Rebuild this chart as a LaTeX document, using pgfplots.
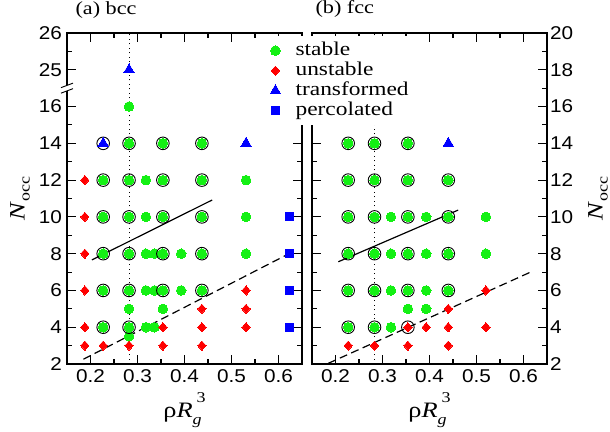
\documentclass[border=0pt]{standalone}
\usepackage{fontspec}
\setmainfont{Liberation Serif}[FakeStretch=1.2]
\setsansfont{Liberation Sans}[FakeStretch=1.12]
\usepackage{pgfplots}
\pgfplotsset{compat=1.18}

\definecolor{stabgreen}{RGB}{20,240,20}

\pgfplotsset{
  dotleg/.style={legend image code/.code={\draw[##1] plot coordinates {(0pt,0pt)};}},
  stab/.style={stabgreen, only marks, mark=*, mark size=4.8pt, mark options={solid, draw=stabgreen, fill=stabgreen, line width=0pt}, dotleg},
  ring/.style={black, only marks, mark=o, mark size=6.3pt, mark options={solid, draw=black, line width=0.9pt}, forget plot},
  unst/.style={red, only marks, mark=diamond*, mark size=4.6pt, mark options={solid, draw=red, fill=red, line width=0pt, xscale=1.2}, dotleg},
  trans/.style={blue, only marks, mark=triangle*, mark size=6pt, mark options={solid, draw=blue, fill=blue, line width=0pt}, dotleg},
  perc/.style={blue, only marks, mark=square*, mark size=4.1pt, mark options={solid, draw=blue, fill=blue, line width=0pt}, dotleg},
  bound/.style={black, line width=1.2pt, forget plot},
  divide/.style={black, line width=1pt, dash pattern=on 1pt off 3.5pt, forget plot},
  phase/.style={
    scale only axis, width=235pt, height=331pt,
    xmin=0.15, xmax=0.65, ymin=2, ymax=20,
    xtick={0.2,0.3,0.4,0.5,0.6}, xticklabels={0.2,0.3,0.4,0.5,0.6},
    minor xtick={0.25,0.35,0.45,0.55},
    tick align=inside, major tick length=9pt, minor tick length=5pt,
    xtick pos=both, xticklabel pos=lower,
    axis line style={line width=1.3pt},
    every tick/.style={black, line width=1.1pt},
    every minor tick/.style={black, line width=1.1pt},
    tick label style={font=\sffamily\fontsize{18.5}{18.5}\selectfont, inner sep=0pt},
    xticklabel style={yshift=-5pt},
    label style={font=\fontsize{22}{22}\selectfont},
    xlabel={ρ\textit{R}\raisebox{-7pt}{\fontsize{15}{15}\selectfont\textit{g}}\hspace{-5pt}\raisebox{15pt}{\fontsize{15}{15}\selectfont 3}},
    xlabel style={at={(axis description cs:0.5,-0.163)}, anchor=base},
    ylabel={\textit{N}\raisebox{-5pt}{\fontsize{15}{15}\selectfont occ}},
    title style={font=\fontsize{18.5}{18.5}\selectfont, at={(axis description cs:0,1)}, anchor=base west},
  },
}

\begin{document}
\begin{tikzpicture}
\useasboundingbox (-67pt,-67pt) rectangle (543pt,364pt);

% (a) bcc
\begin{axis}[phase,
  title={(a) bcc}, title style={xshift=5pt, yshift=12pt},
  ytick={2,4,6,8,10,12,14,16,18,20},
  yticklabels={2,4,6,8,10,12,14,16,25,26},
  minor ytick={3,5,7,9,11,13,15,19},
  ytick pos=both, yticklabel pos=left,
  yticklabel style={xshift=-5pt},
  ylabel style={at={(axis description cs:-0.18,0.5)}, anchor=base},
]
\addplot[divide] coordinates {(0.282,2) (0.282,20)};
\addplot[bound] coordinates {(0.203,7.66) (0.459,10.92)};
\addplot[bound, dash pattern=on 8pt off 4.5pt] coordinates {(0.185,2.26) (0.624,8.02)};
\addplot[stab] coordinates {
  (0.227,12) (0.227,10) (0.227,8) (0.227,6) (0.227,4)
  (0.282,16) (0.282,14) (0.282,12) (0.282,10) (0.282,8) (0.282,6) (0.282,5) (0.282,4) (0.282,3.5)
  (0.318,12) (0.318,10) (0.318,8) (0.318,6) (0.318,4)
  (0.336,8) (0.336,6) (0.336,4)
  (0.354,14) (0.354,12) (0.354,10) (0.354,8) (0.354,6) (0.354,5)
  (0.393,8) (0.393,6)
  (0.437,14) (0.437,12) (0.437,10) (0.437,8) (0.437,6)
  (0.531,12) (0.531,10) (0.531,8)
};
\addplot[ring] coordinates {
  (0.227,14) (0.227,12) (0.227,10) (0.227,8) (0.227,6) (0.227,4)
  (0.282,14) (0.282,12) (0.282,10) (0.282,8) (0.282,6) (0.282,4)
  (0.354,14) (0.354,12) (0.354,10) (0.354,8) (0.354,6)
  (0.437,14) (0.437,12) (0.437,10) (0.437,8) (0.437,6)
};
\addplot[unst] coordinates {
  (0.188,12) (0.188,10) (0.188,8) (0.188,6) (0.188,4) (0.188,3)
  (0.227,3) (0.282,3) (0.354,4) (0.354,3)
  (0.437,5) (0.437,4) (0.437,3)
  (0.531,6) (0.531,5) (0.531,4)
};
\addplot[trans] coordinates {(0.227,14) (0.282,18) (0.531,14)};
\addplot[perc] coordinates {(0.624,10) (0.624,8) (0.624,6) (0.624,4)};
\coordinate (brk) at (axis cs:0.15,17);
\end{axis}

% axis break on the left spine
\fill[white] (brk) ++(-2pt,-3pt) rectangle ++(4pt,6pt);
\draw[line width=0.9pt] (brk) ++(-6pt,-5pt) -- ++(12pt,4.5pt);
\draw[line width=0.9pt] (brk) ++(-6pt,0.5pt) -- ++(12pt,4.5pt);

% (b) fcc
\begin{axis}[phase, at={(245pt,0pt)},
  title={(b) fcc}, title style={yshift=13pt},
  ytick={2,4,...,20},
  yticklabels={2,4,6,8,10,12,14,16,18,20},
  minor ytick={3,5,...,19},
  yticklabel pos=right, ytick pos=both,
  yticklabel style={xshift=3pt},
  ylabel style={at={(axis description cs:1.237,0.5)}, anchor=base},
  legend cell align=left,
  legend style={at={(axis description cs:0,1)}, anchor=north west,
    xshift=-50pt, yshift=-3pt, fill=white, draw=none,
    inner xsep=8pt, inner ysep=6pt, row sep=3pt, column sep=15pt,
    font=\fontsize{19.5}{19.5}\selectfont,
    nodes={inner sep=0pt, text height=13pt, text depth=4pt}},
]
\addplot[divide] coordinates {(0.282,2) (0.282,20)};
\addplot[bound] coordinates {(0.206,7.56) (0.461,10.37)};
\addplot[bound, dash pattern=on 8pt off 4.5pt] coordinates {(0.185,2.04) (0.617,7.02)};
\addplot[stab] coordinates {
  (0.227,14) (0.227,12) (0.227,10) (0.227,8) (0.227,6) (0.227,4)
  (0.283,14) (0.283,12) (0.283,10) (0.283,8) (0.283,6) (0.283,4)
  (0.318,10) (0.318,8) (0.318,6) (0.318,4)
  (0.354,14) (0.354,12) (0.354,10) (0.354,8) (0.354,6) (0.354,5)
  (0.393,10) (0.393,8) (0.393,6) (0.393,5)
  (0.44,12) (0.44,10) (0.44,8) (0.44,6)
  (0.52,10) (0.52,8)
};
\addlegendentry{stable}
\addplot[ring] coordinates {
  (0.227,14) (0.227,12) (0.227,10) (0.227,8) (0.227,6) (0.227,4)
  (0.283,14) (0.283,12) (0.283,10) (0.283,8) (0.283,6) (0.283,4)
  (0.354,14) (0.354,12) (0.354,10) (0.354,8) (0.354,6) (0.354,4)
  (0.44,12) (0.44,10) (0.44,8) (0.44,6)
};
\addplot[unst] coordinates {
  (0.227,3) (0.283,3) (0.354,4) (0.354,3) (0.393,4)
  (0.44,5) (0.44,4) (0.44,3) (0.52,6) (0.52,4)
};
\addlegendentry{unstable}
\addplot[trans] coordinates {(0.44,14)};
\addlegendentry{transformed}
\addlegendimage{perc}
\addlegendentry{percolated}
\end{axis}
\end{tikzpicture}
\end{document}
